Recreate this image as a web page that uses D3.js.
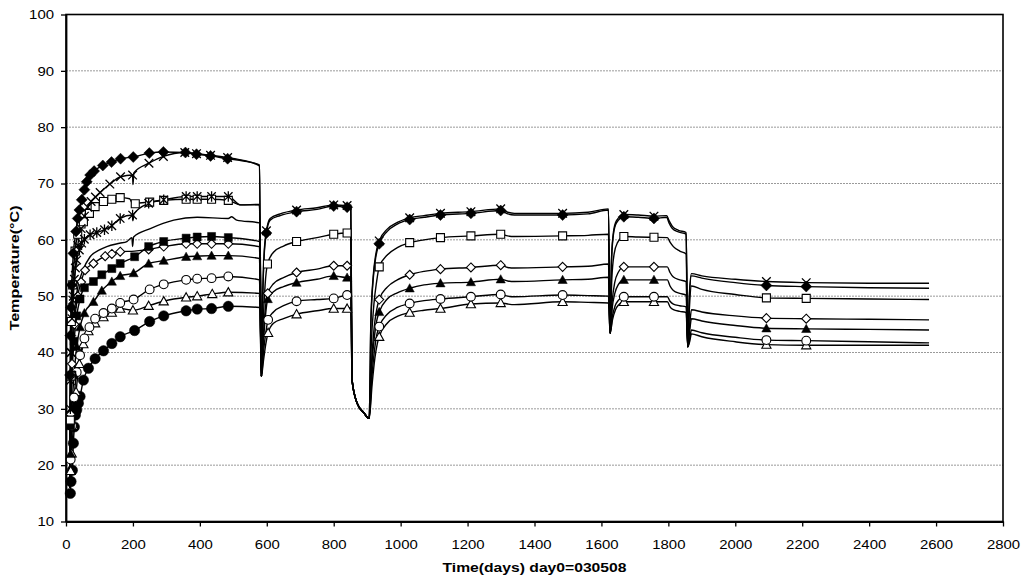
<!DOCTYPE html>
<html><head><meta charset="utf-8">
<script src="https://cdn.jsdelivr.net/npm/d3@7"></script>
<style>body{margin:0;background:#fff}svg{display:block}</style>
</head><body><svg id="c" width="1021" height="586"></svg>
<script>
// ---- data: [day, temperature, markerShown(1/0, default 1)] ----
const xTicks = [0,200,400,600,800,1000,1200,1400,1600,1800,2000,2200,2400,2600,2800];
const yTicks = [10,20,30,40,50,60,70,80,90,100];
const xTitle = "Time(days)  day0=030508";
const yTitle = "Temperature(°C)";

const seriesFilledDiamond = [[11,16,0],[12,36],[13,43],[15,48],[17,52],[22,57.6],[30,61.5],[35,63.8],[40,65.3],[47,67.1],[55,68.9],[62,70.3],[72,71.5],[84,72.2],[110,73.2],[136,73.8],[163,74.4],[201,74.7],[249,75.4],[291,75.6],[357,75.5],[390,75.2],[432,74.9],[483,74.4],[530,74.0,0],[578,73.3,0],
 [584,35.8,0],[588,50,0],[592,57,0],[599,61.2],[610,63.5,0],[640,64.3,0],[689,65.0],[750,65.4,0],[800,66.0],[840,65.8],[851,66.0,0],
 [855,35,0],[870,31,0],[890,29.3,0],[906,28.3,0],[911,45,0],[918,53,0],[926,57,0],[936,59.3],[960,61.5,0],[990,62.8,0],[1027,63.6],[1070,64.0,0],[1119,64.4],[1210,64.7],[1299,65.2],[1320,64.6,0],[1340,64.4,0],[1484,64.4],[1560,64.6,0],[1621,65.3,0],
 [1626,43.4,0],[1630,56,0],[1636,61,0],[1645,63,0],[1667,64.1],[1710,64.0,0],[1757,63.8],[1795,64.0,0],[1802,63.0,0],[1812,62.0,0],[1830,61.4,0],[1853,61.0,0],
 [1858,41.0,0],[1863,50,0],[1869,53.6,0],[1900,53.2,0],[2000,52.4,0],[2093,51.9],[2212,51.7],[2400,51.5,0],[2579,51.4,0]];

const seriesCross = [[11,16,0],[13,35],[15,40],[18,46],[22,50],[28,55],[35,59],[45,62],[55,64.2],[65,65.8],[75,66.8],[88,67.6],[102,68.4],[131,69.9],[163,71.2],[199,71.5],[200,69.8,0],[203,71.9,0],[248,73.6],[291,74.8],[355,75.5],[390,75.3],[432,75.0],[483,74.6],[530,74.1,0],[578,73.1,0],
 [584,35.8,0],[588,50.5,0],[592,57.5,0],[599,61.6],[610,63.8,0],[640,64.6,0],[689,65.3],[750,65.7,0],[800,66.2],[840,66.1],[851,66.2,0],
 [855,35,0],[870,31,0],[890,29.3,0],[906,28.3,0],[911,45.5,0],[918,53.5,0],[926,57.5,0],[936,59.8],[960,61.9,0],[990,63.1,0],[1027,63.9],[1070,64.3,0],[1119,64.7],[1210,65.0],[1299,65.5],[1320,64.9,0],[1340,64.7,0],[1484,64.7],[1560,64.9,0],[1621,65.5,0],
 [1626,43.4,0],[1630,56.5,0],[1636,61.4,0],[1645,63.4,0],[1667,64.5],[1710,64.4,0],[1757,64.2],[1795,64.3,0],[1802,63.4,0],[1812,62.4,0],[1830,61.7,0],[1853,61.3,0],
 [1858,41.0,0],[1863,50.5,0],[1869,54.0,0],[1900,53.6,0],[2000,53.0,0],[2093,52.6],[2212,52.4],[2400,52.3,0],[2579,52.3,0]];

const seriesAsterisk = [[11,16,0],[13,30],[16,40],[20,49.3],[25,53],[32,56.4],[40,58.2],[47,59.4],[55,60.1],[72,60.9],[92,61.3],[115,61.8],[137,62.5],[162,63.8],[199,64.4],[200,63.4,0],[203,64.6,0],[247,66.5],[292,67.1],[359,67.7],[392,67.7],[435,67.7],[485,67.7],[522,66.2,0],[578,66.2,0],[584,35.8,0]];

const seriesOpenSquare = [[11,16,0],[13,28],[15,35.8],[16,45.5],[20,52],[27,58],[35,61],[45,62.8],[52,63.2],[70,64.7],[87,65.9],[112,66.8],[137,67.2],[162,67.5],[190,67.3,0],[200,66.3,0],[207,66.4],[250,66.7],[292,67.0],[359,67.2],[392,67.2],[435,67.2],[485,67.0],[522,66.2,0],[578,66.3,0],
 [584,35.8,0],[589,45,0],[595,52,0],[602,55.7],[620,57.8,0],[650,58.9,0],[689,59.7],[750,60.4,0],[800,61.0],[840,61.2],[851,61.2,0],
 [855,35,0],[870,31,0],[890,29.3,0],[906,28.3,0],[912,41,0],[920,48.5,0],[928,52.5,0],[936,55.2],[960,57.3,0],[990,58.6,0],[1027,59.5],[1070,60.0,0],[1119,60.4],[1210,60.7],[1299,61.0],[1320,60.7,0],[1340,60.6,0],[1484,60.7],[1560,60.8,0],[1621,61.0,0],
 [1626,43.4,0],[1631,53,0],[1638,57.5,0],[1648,59.5,0],[1667,60.6],[1710,60.5,0],[1757,60.45],[1797,60.4,0],[1805,59.6,0],[1815,58.8,0],[1834,58.0,0],[1853,57.5,0],
 [1858,41.0,0],[1863,48,0],[1869,51.8,0],[1900,51.2,0],[2000,50.3,0],[2093,49.7],[2212,49.6],[2400,49.5,0],[2579,49.4,0]];

const seriesPlain = [[11,16,0],[14,30,0],[18,40,0],[25,47,0],[35,51.5,0],[50,54.5,0],[72,57,0],[100,58.2,0],[122,58.8,0],[160,59.4,0],[182,59.7,0],[197,60.4,0],[199,58.8,0],[202,60.5,0],[252,62.0,0],[322,63.5,0],[392,64.0,0],[485,63.8,0],[495,64.1,0],[510,63.5,0],[578,63.0,0],[584,35.8,0]];

const seriesFilledSquare = [[11,16,0],[14,27],[18,36],[24,42],[32,46.5],[42,49.5],[55,51.5],[82,52.6],[107,53.8],[137,54.9],[162,55.8],[205,57.0],[247,58.8],[292,59.7],[359,60.3],[392,60.5],[435,60.6],[485,60.4],[578,59.7,0],[584,35.8,0]];

const seriesOpenDiamond = [[11,16,0],[14,29],[18,38],[25,45],[35,50],[45,52.5],[57,54.6],[82,55.8],[117,57.1],[137,57.5],[162,57.9],[205,58.0,0],[247,58.3],[292,58.8],[359,59.3],[392,59.3],[435,59.3],[485,59.3],[578,58.8,0],
 [584,35.8,0],[589,42,0],[596,48,0],[603,50.5],[620,52.2,0],[650,53.3,0],[689,54.2],[750,54.8,0],[800,55.4],[840,55.4],[851,55.4,0],
 [855,35,0],[870,31,0],[890,29.3,0],[906,28.3,0],[913,38,0],[921,44.5,0],[928,47.5,0],[936,49.4],[960,51.6,0],[990,52.9,0],[1027,53.8],[1070,54.4,0],[1119,54.8],[1210,55.1],[1299,55.5],[1320,55.1,0],[1340,55.0,0],[1484,55.2],[1560,55.3,0],[1621,55.7,0],
 [1626,43.4,0],[1632,49,0],[1640,52.5,0],[1650,54.2,0],[1667,55.2],[1710,55.2,0],[1757,55.2],[1797,55.2,0],[1805,54.2,0],[1815,53.4,0],[1834,52.9,0],[1853,52.6,0],
 [1858,41.0,0],[1864,45,0],[1869,47.6,0],[1900,47.2,0],[2000,46.5,0],[2093,46.1],[2212,46.0],[2400,45.9,0],[2579,45.8,0]];

const seriesFilledTriangle = [[11,16,0],[14,22],[18,30],[24,36],[32,41],[42,44.5],[55,47],[82,49.0],[107,51.0],[137,52.6],[162,53.6],[202,54.1],[247,55.8],[292,56.3],[359,57.0],[392,57.1],[435,57.2],[485,57.2],[578,56.7,0],
 [584,35.8,0],[589,41,0],[596,46.5,0],[603,49.5],[620,50.8,0],[650,51.7,0],[689,52.4],[750,53.0,0],[800,53.6],[840,53.3],[851,53.5,0],
 [855,35,0],[870,31,0],[890,29.3,0],[906,28.3,0],[913,37,0],[921,42.5,0],[928,45.5,0],[936,47.2],[960,49.5,0],[990,50.6,0],[1027,51.4],[1070,52.0,0],[1119,52.3],[1210,52.5],[1299,53.0],[1320,52.7,0],[1340,52.6,0],[1484,52.9],[1560,53.0,0],[1621,53.35,0],
 [1626,43.4,0],[1632,47.8,0],[1640,50.5,0],[1650,52.0,0],[1667,52.9],[1710,52.9,0],[1757,52.9],[1797,52.9,0],[1805,51.8,0],[1815,51.0,0],[1834,50.5,0],[1853,50.2,0],
 [1858,41.0,0],[1864,44,0],[1869,46.0,0],[1900,45.6,0],[2000,44.8,0],[2093,44.3],[2212,44.2],[2400,44.1,0],[2579,44.0,0]];

const seriesOpenCircle = [[11,16,0],[14,21],[18,27],[24,32],[32,36.5],[42,39.5],[55,42.5],[70,44.5],[87,46.0],[112,47.0],[137,47.8],[162,48.8],[202,49.4],[250,51.2],[292,52.1],[359,52.9],[392,53.1],[435,53.2],[485,53.5],[578,52.9,0],
 [584,35.8,0],[590,40,0],[597,43.5,0],[604,45.8],[620,47.2,0],[650,48.3,0],[689,49.1],[750,49.4,0],[800,49.6],[840,50.2],[851,50.2,0],
 [855,35,0],[870,31,0],[890,29.3,0],[906,28.3,0],[914,35.5,0],[922,40.5,0],[929,43.2,0],[936,44.6],[960,46.8,0],[990,48.0,0],[1027,48.7],[1070,49.2,0],[1119,49.5],[1210,49.9],[1299,50.3],[1320,50.0,0],[1340,49.9,0],[1484,50.2],[1560,50.1,0],[1621,50.0,0],
 [1626,43.4,0],[1633,46.5,0],[1641,48.3,0],[1651,49.3,0],[1667,49.9],[1710,49.9,0],[1757,49.9],[1797,49.9,0],[1805,49.1,0],[1815,48.6,0],[1834,48.3,0],[1853,48.1,0],
 [1858,41.0,0],[1864,42.5,0],[1869,44.0,0],[1900,43.5,0],[2000,42.7,0],[2093,42.2],[2212,42.1],[2400,41.9,0],[2579,41.7,0]];

const seriesOpenTriangle = [[11,16,0],[14,19],[17,22.1],[22,27],[30,33],[40,38],[52,41.5],[67,43.8],[87,45.2],[112,46.3],[137,47.1],[162,47.8],[200,47.5],[247,48.3],[292,49.1],[359,49.8],[392,50.0],[437,50.4],[485,50.7],[578,50.5,0],
 [584,35.8,0],[590,38.5,0],[597,41.5,0],[604,43.5],[620,45.2,0],[650,46.0,0],[689,46.8],[750,47.4,0],[800,47.8],[840,47.8],[851,48.0,0],
 [855,35,0],[870,31,0],[890,29.3,0],[906,28.3,0],[915,34.5,0],[923,39,0],[930,41.5,0],[936,42.8],[960,45.2,0],[990,46.4,0],[1027,47.1],[1070,47.5,0],[1119,47.8],[1210,48.6],[1299,48.8],[1320,48.6,0],[1340,48.5,0],[1484,49.0],[1560,48.9,0],[1621,48.8,0],
 [1626,43.4,0],[1633,45.8,0],[1642,47.6,0],[1652,48.5,0],[1667,49.0],[1710,49.0,0],[1757,49.0],[1797,49.0,0],[1805,48.1,0],[1815,47.6,0],[1834,47.3,0],[1853,47.1,0],
 [1858,41.0,0],[1864,42,0],[1869,43.3,0],[1900,42.8,0],[2000,41.9,0],[2093,41.4],[2212,41.3],[2400,41.3,0],[2579,41.3,0]];

const seriesFilledCircle = [[13,15.0],[15,17.1],[19,19.1],[22,23.9],[25,26.8],[28,28.9],[32,29.8],[37,31],[42,32.2],[52,35.1],[67,37.2],[87,38.9],[112,40.3],[137,41.6],[162,42.8],[205,43.9],[250,45.5],[292,46.5],[359,47.4],[392,47.7],[435,47.8],[485,48.2],[578,48.0,0],[584,35.8,0]];

const seriesList = [
  {data: seriesPlain, marker: "none"},
  {data: seriesFilledCircle, marker: "circleFill"},
  {data: seriesOpenTriangle, marker: "triOpen"},
  {data: seriesOpenCircle, marker: "circleOpen"},
  {data: seriesFilledTriangle, marker: "triFill"},
  {data: seriesOpenDiamond, marker: "diamondOpen"},
  {data: seriesFilledSquare, marker: "squareFill"},
  {data: seriesOpenSquare, marker: "squareOpen"},
  {data: seriesAsterisk, marker: "asterisk"},
  {data: seriesCross, marker: "cross"},
  {data: seriesFilledDiamond, marker: "diamondFill"}
];

// ---- drawing ----
const svg = d3.select("#c");
const L = 66, R = 1003, T = 14.5, B = 521.5;
const x = d3.scaleLinear().domain([0, 2800]).range([L, R]);
const y = d3.scaleLinear().domain([10, 100]).range([B, T]);
const FONT = "'Liberation Sans', Arial, sans-serif";

// gridlines
svg.append("g").selectAll("line").data(yTicks.filter(d => d > 10 && d < 100)).join("line")
  .attr("x1", L).attr("x2", R).attr("y1", d => y(d)).attr("y2", d => y(d))
  .attr("stroke", "#9a9a9a").attr("stroke-width", 1).attr("stroke-dasharray", "2,1");

// plot border
svg.append("rect").attr("x", L).attr("y", T).attr("width", R - L).attr("height", B - T)
  .attr("fill", "none").attr("stroke", "#000").attr("stroke-width", 1.6);

// axes
const gx = svg.append("g").attr("transform", `translate(0,${B})`)
  .call(d3.axisBottom(x).tickValues(xTicks).tickSize(5).tickSizeOuter(0).tickPadding(13).tickFormat(d3.format("d")));
const gy = svg.append("g").attr("transform", `translate(${L},0)`)
  .call(d3.axisLeft(y).tickValues(yTicks).tickSize(5).tickSizeOuter(0).tickPadding(7).tickFormat(d3.format("d")));
[gx, gy].forEach(g => {
  g.select(".domain").attr("stroke", "#000").attr("stroke-width", 1.8);
  g.selectAll(".tick line").attr("stroke", "#000").attr("stroke-width", 1.3);
  g.selectAll("text").attr("font-family", FONT).attr("font-size", 13.5).attr("fill", "#000")
    .attr("textLength", function() { return this.textContent.length * 8.3; })
    .attr("lengthAdjust", "spacingAndGlyphs");
});

// titles
svg.append("text").attr("x", (L + R) / 2).attr("y", 572).attr("text-anchor", "middle")
  .attr("font-family", FONT).attr("font-weight", "bold").attr("font-size", 13)
  .attr("textLength", 184).attr("lengthAdjust", "spacingAndGlyphs").text(xTitle);
svg.append("text").attr("transform", `translate(19,${(T + B) / 2}) rotate(-90)`).attr("text-anchor", "middle")
  .attr("font-family", FONT).attr("font-weight", "bold").attr("font-size", 13)
  .attr("textLength", 125).attr("lengthAdjust", "spacingAndGlyphs").text(yTitle);

// lines
const lineGen = d3.line().x(d => x(d[0])).y(d => y(d[1])).curve(d3.curveMonotoneX);
const gLines = svg.append("g");
seriesList.forEach(s => {
  gLines.append("path").attr("d", lineGen(s.data)).attr("fill", "none")
    .attr("stroke", "#000").attr("stroke-width", 1.4).attr("stroke-linejoin", "round");
});

// markers
function markerPath(type) {
  switch (type) {
    case "diamondFill": { const r = 5.5; return `M0,${-r}L${r},0L0,${r}L${-r},0Z`; }
    case "diamondOpen": { const r = 4.5; return `M0,${-r}L${r},0L0,${r}L${-r},0Z`; }
    case "squareFill": case "squareOpen": { const s = 4; return `M${-s},${-s}H${s}V${s}H${-s}Z`; }
    case "triFill": case "triOpen": { const s = 4.6; return `M0,${-s}L${s},${s * 0.8}L${-s},${s * 0.8}Z`; }
    case "cross": { const s = 4.3; return `M${-s},${-s}L${s},${s}M${s},${-s}L${-s},${s}`; }
    case "asterisk": { const s = 4.2; return `M${-s},${-s}L${s},${s}M${s},${-s}L${-s},${s}M0,${-s * 1.25}V${s * 1.25}`; }
  }
  return "";
}
const gMarks = svg.append("g");
seriesList.forEach(s => {
  if (s.marker === "none") return;
  const pts = s.data.filter(d => d[2] !== 0);
  const g = gMarks.append("g");
  const isOpen = /Open/.test(s.marker);
  if (s.marker === "circleFill" || s.marker === "circleOpen") {
    g.selectAll("circle").data(pts).join("circle")
      .attr("cx", d => x(d[0])).attr("cy", d => y(d[1]))
      .attr("r", s.marker === "circleFill" ? 5.2 : 4.4)
      .attr("fill", isOpen ? "#fff" : "#000").attr("stroke", "#000").attr("stroke-width", isOpen ? 1.1 : 0.5);
  } else {
    const p = markerPath(s.marker);
    const lineOnly = s.marker === "cross" || s.marker === "asterisk";
    g.selectAll("path").data(pts).join("path")
      .attr("transform", d => `translate(${x(d[0])},${y(d[1])})`).attr("d", p)
      .attr("fill", lineOnly ? "none" : (isOpen ? "#fff" : "#000"))
      .attr("stroke", "#000").attr("stroke-width", lineOnly ? 1.3 : (isOpen ? 1.1 : 0.5));
  }
});
</script></body></html>
